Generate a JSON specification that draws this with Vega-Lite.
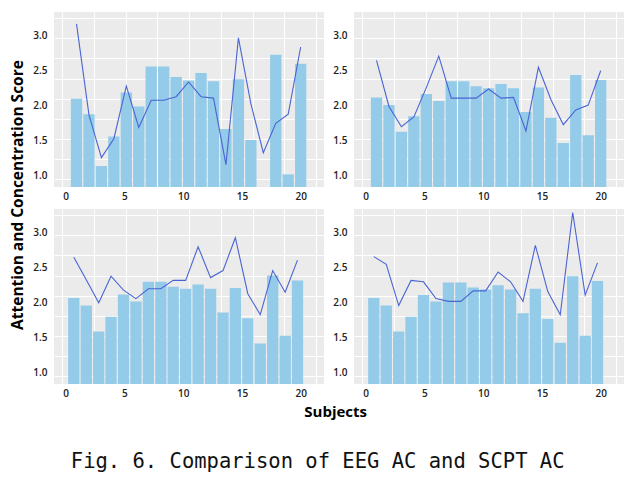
{
  "$schema": "https://vega.github.io/schema/vega-lite/v6.json",
  "padding": {"left": 11, "top": 12, "right": 4, "bottom": 4},
  "background": "white",
  "datasets": {
    "p1": [
      {"x": 0.92, "scpt": 2.09, "eeg": 3.16}, {"x": 1.98, "scpt": 1.87, "eeg": 1.86}, {"x": 3.04, "scpt": 1.13, "eeg": 1.25},
      {"x": 4.10, "scpt": 1.55, "eeg": 1.52}, {"x": 5.16, "scpt": 2.18, "eeg": 2.27}, {"x": 6.22, "scpt": 1.98, "eeg": 1.68},
      {"x": 7.28, "scpt": 2.55, "eeg": 2.07}, {"x": 8.34, "scpt": 2.55, "eeg": 2.07}, {"x": 9.40, "scpt": 2.40, "eeg": 2.12},
      {"x": 10.46, "scpt": 2.35, "eeg": 2.33}, {"x": 11.52, "scpt": 2.46, "eeg": 2.12}, {"x": 12.58, "scpt": 2.34, "eeg": 2.10},
      {"x": 13.64, "scpt": 1.66, "eeg": 1.15}, {"x": 14.70, "scpt": 2.37, "eeg": 2.96}, {"x": 15.76, "scpt": 1.50, "eeg": 2.02},
      {"x": 16.82, "scpt": null, "eeg": 1.32}, {"x": 17.88, "scpt": 2.72, "eeg": 1.74}, {"x": 18.94, "scpt": 1.01, "eeg": 1.87},
      {"x": 20.00, "scpt": 2.59, "eeg": 2.83}
    ],
    "p2": [
      {"x": 0.92, "scpt": 2.11, "eeg": 2.64}, {"x": 1.98, "scpt": 2.00, "eeg": 1.98}, {"x": 3.04, "scpt": 1.62, "eeg": 1.69},
      {"x": 4.10, "scpt": 1.84, "eeg": 1.83}, {"x": 5.16, "scpt": 2.16, "eeg": 2.25}, {"x": 6.22, "scpt": 2.06, "eeg": 2.70},
      {"x": 7.28, "scpt": 2.34, "eeg": 2.10}, {"x": 8.34, "scpt": 2.34, "eeg": 2.10}, {"x": 9.40, "scpt": 2.27, "eeg": 2.10},
      {"x": 10.46, "scpt": 2.24, "eeg": 2.23}, {"x": 11.52, "scpt": 2.30, "eeg": 2.10}, {"x": 12.58, "scpt": 2.24, "eeg": 2.11},
      {"x": 13.64, "scpt": 1.90, "eeg": 1.63}, {"x": 14.70, "scpt": 2.25, "eeg": 2.54}, {"x": 15.76, "scpt": 1.82, "eeg": 2.08},
      {"x": 16.82, "scpt": 1.46, "eeg": 1.72}, {"x": 17.88, "scpt": 2.43, "eeg": 1.93}, {"x": 18.94, "scpt": 1.57, "eeg": 2.00},
      {"x": 20.00, "scpt": 2.36, "eeg": 2.49}
    ],
    "p3": [
      {"x": 0.69, "scpt": 2.06, "eeg": 2.64}, {"x": 1.75, "scpt": 1.95, "eeg": 2.32}, {"x": 2.81, "scpt": 1.58, "eeg": 1.99},
      {"x": 3.86, "scpt": 1.79, "eeg": 2.37}, {"x": 4.92, "scpt": 2.11, "eeg": 2.17}, {"x": 5.98, "scpt": 2.01, "eeg": 2.05},
      {"x": 7.04, "scpt": 2.29, "eeg": 2.19}, {"x": 8.10, "scpt": 2.29, "eeg": 2.19}, {"x": 9.15, "scpt": 2.22, "eeg": 2.31},
      {"x": 10.21, "scpt": 2.19, "eeg": 2.31}, {"x": 11.27, "scpt": 2.25, "eeg": 2.79}, {"x": 12.33, "scpt": 2.19, "eeg": 2.35},
      {"x": 13.39, "scpt": 1.85, "eeg": 2.45}, {"x": 14.44, "scpt": 2.20, "eeg": 2.92}, {"x": 15.50, "scpt": 1.77, "eeg": 2.12},
      {"x": 16.56, "scpt": 1.41, "eeg": 1.82}, {"x": 17.62, "scpt": 2.38, "eeg": 2.45}, {"x": 18.68, "scpt": 1.52, "eeg": 2.14},
      {"x": 19.73, "scpt": 2.31, "eeg": 2.60}
    ],
    "p4": [
      {"x": 0.69, "scpt": 2.06, "eeg": 2.65}, {"x": 1.75, "scpt": 1.95, "eeg": 2.54}, {"x": 2.81, "scpt": 1.58, "eeg": 1.95},
      {"x": 3.86, "scpt": 1.79, "eeg": 2.31}, {"x": 4.92, "scpt": 2.10, "eeg": 2.29}, {"x": 5.98, "scpt": 2.01, "eeg": 2.05},
      {"x": 7.04, "scpt": 2.28, "eeg": 2.01}, {"x": 8.10, "scpt": 2.28, "eeg": 2.01}, {"x": 9.15, "scpt": 2.21, "eeg": 2.16},
      {"x": 10.21, "scpt": 2.18, "eeg": 2.16}, {"x": 11.27, "scpt": 2.24, "eeg": 2.43}, {"x": 12.33, "scpt": 2.18, "eeg": 2.29},
      {"x": 13.39, "scpt": 1.84, "eeg": 2.01}, {"x": 14.44, "scpt": 2.19, "eeg": 2.81}, {"x": 15.50, "scpt": 1.76, "eeg": 2.15},
      {"x": 16.56, "scpt": 1.42, "eeg": 1.82}, {"x": 17.62, "scpt": 2.37, "eeg": 3.28}, {"x": 18.68, "scpt": 1.52, "eeg": 2.10},
      {"x": 19.73, "scpt": 2.30, "eeg": 2.56}
    ]
  },
  "title": {"text": "Fig. 6. Comparison of EEG AC and SCPT AC", "orient": "bottom", "anchor": "middle", "font": "DejaVu Sans Mono", "fontSize": 20.5, "fontWeight": "normal", "color": "#111", "offset": 32},
  "vconcat": [
    {
      "title": {"text": "Subjects", "orient": "bottom", "anchor": "middle", "font": "Open Sans", "fontSize": 15, "fontWeight": "bold", "color": "#000", "offset": 7, "dx": 18},
      "hconcat": [
        {
          "title": {"text": "Attention and Concentration Score", "orient": "left", "anchor": "middle", "font": "Open Sans", "fontSize": 15.5, "fontWeight": "bold", "color": "#000", "offset": 6, "dx": 10},
          "vconcat": [
            {
              "width": 270, "height": 175, "data": {"name": "p1"},
              "layer": [
                {"mark": {"type": "bar", "width": 11.3, "color": "#93cbe8", "clip": true},
                 "encoding": {
                   "x": {"field": "x", "type": "quantitative", "scale": {"domain": [-0.57, 21.56], "nice": false, "zero": false}, "axis": {"values": [0, 5, 10, 15, 20], "grid": false}},
                   "y": {"field": "scpt", "type": "quantitative", "scale": {"domain": [0.83, 3.33], "nice": false, "zero": false}, "axis": {"values": [1, 1.5, 2, 2.5, 3], "format": ".1f", "grid": false}}}},
                {"mark": {"type": "line", "color": "#4a64d4", "strokeWidth": 1.1, "clip": true},
                 "encoding": {
                   "x": {"field": "x", "type": "quantitative", "axis": {"orient": "top", "labels": false, "grid": true, "values": [-0.3, 2.4, 5.1, 7.8, 10.5, 13.2, 15.9, 18.6, 21.3], "minExtent": 0, "maxExtent": 0}},
                   "y": {"field": "eeg", "type": "quantitative", "axis": {"orient": "right", "labels": false, "grid": true, "values": [0.94, 1.23, 1.52, 1.8, 2.09, 2.38, 2.67, 2.96, 3.25], "minExtent": 0, "maxExtent": 0}}}}
              ],
              "resolve": {"axis": {"x": "independent", "y": "independent"}}
            },
            {
              "width": 270, "height": 175, "data": {"name": "p3"},
              "layer": [
                {"mark": {"type": "bar", "width": 11.3, "color": "#93cbe8", "clip": true},
                 "encoding": {
                   "x": {"field": "x", "type": "quantitative", "scale": {"domain": [-0.57, 21.56], "nice": false, "zero": false}, "axis": {"values": [0, 5, 10, 15, 20], "grid": false}},
                   "y": {"field": "scpt", "type": "quantitative", "scale": {"domain": [0.83, 3.33], "nice": false, "zero": false}, "axis": {"values": [1, 1.5, 2, 2.5, 3], "format": ".1f", "grid": false}}}},
                {"mark": {"type": "line", "color": "#4a64d4", "strokeWidth": 1.1, "clip": true},
                 "encoding": {
                   "x": {"field": "x", "type": "quantitative", "axis": {"orient": "top", "labels": false, "grid": true, "values": [-0.3, 2.4, 5.1, 7.8, 10.5, 13.2, 15.9, 18.6, 21.3], "minExtent": 0, "maxExtent": 0}},
                   "y": {"field": "eeg", "type": "quantitative", "axis": {"orient": "right", "labels": false, "grid": true, "values": [0.94, 1.23, 1.52, 1.8, 2.09, 2.38, 2.67, 2.96, 3.25], "minExtent": 0, "maxExtent": 0}}}}
              ],
              "resolve": {"axis": {"x": "independent", "y": "independent"}}
            }
          ]
        },
        {
          "vconcat": [
            {
              "width": 270, "height": 175, "data": {"name": "p2"},
              "layer": [
                {"mark": {"type": "bar", "width": 11.3, "color": "#93cbe8", "clip": true},
                 "encoding": {
                   "x": {"field": "x", "type": "quantitative", "scale": {"domain": [-0.57, 21.56], "nice": false, "zero": false}, "axis": {"values": [0, 5, 10, 15, 20], "grid": false}},
                   "y": {"field": "scpt", "type": "quantitative", "scale": {"domain": [0.83, 3.33], "nice": false, "zero": false}, "axis": {"values": [1, 1.5, 2, 2.5, 3], "format": ".1f", "grid": false}}}},
                {"mark": {"type": "line", "color": "#4a64d4", "strokeWidth": 1.1, "clip": true},
                 "encoding": {
                   "x": {"field": "x", "type": "quantitative", "axis": {"orient": "top", "labels": false, "grid": true, "values": [-0.3, 2.4, 5.1, 7.8, 10.5, 13.2, 15.9, 18.6, 21.3], "minExtent": 0, "maxExtent": 0}},
                   "y": {"field": "eeg", "type": "quantitative", "axis": {"orient": "right", "labels": false, "grid": true, "values": [0.94, 1.23, 1.52, 1.8, 2.09, 2.38, 2.67, 2.96, 3.25], "minExtent": 0, "maxExtent": 0}}}}
              ],
              "resolve": {"axis": {"x": "independent", "y": "independent"}}
            },
            {
              "width": 270, "height": 175, "data": {"name": "p4"},
              "layer": [
                {"mark": {"type": "bar", "width": 11.3, "color": "#93cbe8", "clip": true},
                 "encoding": {
                   "x": {"field": "x", "type": "quantitative", "scale": {"domain": [-0.57, 21.56], "nice": false, "zero": false}, "axis": {"values": [0, 5, 10, 15, 20], "grid": false}},
                   "y": {"field": "scpt", "type": "quantitative", "scale": {"domain": [0.83, 3.33], "nice": false, "zero": false}, "axis": {"values": [1, 1.5, 2, 2.5, 3], "format": ".1f", "grid": false}}}},
                {"mark": {"type": "line", "color": "#4a64d4", "strokeWidth": 1.1, "clip": true},
                 "encoding": {
                   "x": {"field": "x", "type": "quantitative", "axis": {"orient": "top", "labels": false, "grid": true, "values": [-0.3, 2.4, 5.1, 7.8, 10.5, 13.2, 15.9, 18.6, 21.3], "minExtent": 0, "maxExtent": 0}},
                   "y": {"field": "eeg", "type": "quantitative", "axis": {"orient": "right", "labels": false, "grid": true, "values": [0.94, 1.23, 1.52, 1.8, 2.09, 2.38, 2.67, 2.96, 3.25], "minExtent": 0, "maxExtent": 0}}}}
              ],
              "resolve": {"axis": {"x": "independent", "y": "independent"}}
            }
          ]
        }
      ]
    }
  ],
  "config": {
    "view": {"fill": "#ebebeb", "stroke": null},
    "axis": {"domain": false, "ticks": false, "title": null, "labelFont": "Open Sans", "labelFontSize": 10, "labelFontWeight": 600, "labelColor": "#222", "gridColor": "#ffffff", "gridWidth": 1, "gridOpacity": 1},
    "axisX": {"labelPadding": 4},
    "axisY": {"labelPadding": 7},
    "concat": {"spacing": 8}
  }
}
